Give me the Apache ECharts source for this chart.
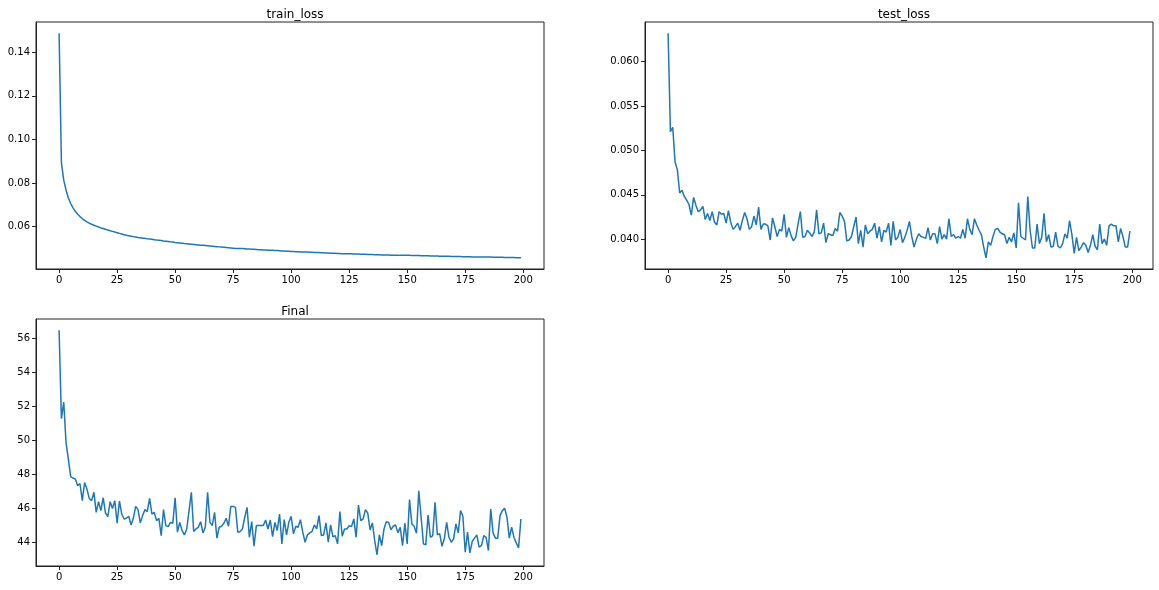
<!DOCTYPE html>
<html>
<head>
<meta charset="utf-8">
<script src="https://cdn.jsdelivr.net/npm/echarts@6/dist/echarts.min.js"></script>
<style>
html,body{margin:0;padding:0;background:#fff;}
#chart{width:1159px;height:590px;}
</style>
</head>
<body>
<div id="chart"></div>
<script>
// ---- data ----
const titles = ["train_loss", "test_loss", "Final"];
const xTicks = [0, 25, 50, 75, 100, 125, 150, 175, 200];
const trainTicks = [0.06, 0.08, 0.10, 0.12, 0.14];
const testTicks = [0.040, 0.045, 0.050, 0.055, 0.060];
const finalTicks = [44, 46, 48, 50, 52, 54, 56];

const trainLoss = [
0.1487,0.0893,0.0813,0.0768,0.0731,0.0706,0.0686,0.0670,0.0657,0.0646,0.0637,
0.0629,0.0622,0.0616,0.0611,0.0606,0.0602,0.0598,0.0594,0.0591,0.0588,
0.0584,0.0581,0.0578,0.0575,0.0572,0.0569,0.0566,0.0563,0.0560,0.0558,
0.0556,0.0554,0.0552,0.0550,0.0549,0.0547,0.0546,0.0544,0.0543,0.0542,
0.0540,0.0538,0.0537,0.0536,0.0534,0.0533,0.0532,0.0530,0.0529,0.0527,
0.0526,0.0525,0.0524,0.0522,0.0521,0.0520,0.0519,0.0518,0.0517,0.0516,
0.0515,0.0514,0.0513,0.0512,0.0511,0.0510,0.0509,0.0508,0.0507,0.0506,0.0505,0.0504,0.0503,0.0502,0.0501,
0.0500,0.0500,0.0499,0.0499,0.0498,0.0497,0.0497,0.0496,0.0496,0.0495,0.0494,0.0494,0.0493,0.0493,0.0492,0.0491,0.0491,0.0490,0.0490,0.0489,0.0488,0.0488,0.0487,0.0487,0.0486,
0.0486,0.0485,0.0485,0.0484,0.0484,0.0483,0.0483,0.0482,0.0482,0.0481,0.0481,0.0481,0.0480,0.0480,0.0479,0.0479,0.0478,0.0478,0.0478,0.0477,0.0477,0.0476,0.0476,0.0475,0.0475,
0.0475,0.0474,0.0474,0.0474,0.0473,0.0473,0.0473,0.0472,0.0472,0.0472,0.0471,0.0471,0.0471,0.0470,0.0470,0.0470,0.0470,0.0469,0.0469,0.0469,0.0469,0.0468,0.0468,0.0468,0.0468,
0.0468,0.0467,0.0467,0.0467,0.0467,0.0466,0.0466,0.0466,0.0466,0.0465,0.0465,0.0465,0.0465,0.0464,0.0464,0.0464,0.0464,0.0464,0.0463,0.0463,0.0463,0.0463,0.0463,0.0462,0.0462,
0.0462,0.0462,0.0461,0.0461,0.0461,0.0461,0.0460,0.0460,0.0460,0.0460,0.0460,0.0459,0.0459,0.0459,0.0459,0.0459,0.0458,0.0458,0.0458,0.0458,0.0458,0.0457,0.0457,0.0457
];

const testLoss = [
0.0632,0.0521,0.0526,0.0487,0.0478,0.0452,0.0455,0.0448,0.0444,0.0439,
0.0427,0.0447,0.0438,0.0431,0.0433,0.0437,0.0422,0.0429,0.0421,0.0431,
0.0419,0.0416,0.0431,0.0428,0.0429,0.0418,0.0432,0.0419,0.0411,0.0414,
0.0418,0.0410,0.0421,0.0430,0.0423,0.0411,0.0414,0.0426,0.0416,0.0436,
0.0411,0.0417,0.0417,0.0415,0.0399,0.0424,0.0414,0.0403,0.0411,0.0409,
0.0428,0.0402,0.0413,0.0404,0.0398,0.0402,0.0417,0.0431,0.0402,0.0403,
0.0410,0.0407,0.0403,0.0408,0.0433,0.0406,0.0407,0.0418,0.0396,0.0406,
0.0405,0.0404,0.0412,0.0409,0.0430,0.0426,0.0420,0.0398,0.0399,0.0403,
0.0414,0.0425,0.0395,0.0410,0.0391,0.0416,0.0406,0.0409,0.0411,0.0418,
0.0401,0.0414,0.0397,0.0410,0.0408,0.0418,0.0393,0.0420,0.0399,0.0402,
0.0411,0.0396,0.0402,0.0410,0.0420,0.0403,0.0391,0.0400,0.0406,0.0403,
0.0402,0.0401,0.0413,0.0399,0.0406,0.0406,0.0395,0.0414,0.0400,0.0405,
0.0400,0.0423,0.0403,0.0405,0.0401,0.0403,0.0401,0.0411,0.0401,0.0423,
0.0411,0.0405,0.0423,0.0416,0.0410,0.0405,0.0391,0.0379,0.0397,0.0393,
0.0403,0.0411,0.0412,0.0408,0.0406,0.0405,0.0395,0.0402,0.0397,0.0407,
0.0390,0.0441,0.0403,0.0401,0.0399,0.0448,0.0410,0.0390,0.0390,0.0417,
0.0395,0.0402,0.0429,0.0397,0.0405,0.0391,0.0392,0.0408,0.0392,0.0390,
0.0395,0.0406,0.0401,0.0421,0.0405,0.0384,0.0402,0.0387,0.0391,0.0396,
0.0393,0.0385,0.0393,0.0405,0.0392,0.0388,0.0417,0.0395,0.0400,0.0393,
0.0415,0.0417,0.0415,0.0415,0.0397,0.0412,0.0403,0.0391,0.0391,0.0409
];

const finalVals = [
56.49,51.28,52.26,49.87,48.89,47.87,47.78,47.72,47.33,47.46,
46.45,47.52,47.13,46.58,46.45,46.94,45.76,46.39,45.86,46.62,
45.72,45.51,46.39,45.99,46.45,45.12,46.43,45.66,45.37,45.41,
45.53,45.02,45.41,46.11,45.92,45.14,45.57,45.92,45.80,46.58,
45.66,45.76,45.27,45.41,44.39,45.92,44.98,44.92,45.17,45.12,
46.62,44.59,45.17,44.69,44.43,44.78,45.86,46.94,44.63,44.78,
44.88,45.21,44.55,44.88,46.94,45.17,44.98,45.76,44.24,44.88,
44.94,45.12,45.41,44.94,46.11,46.11,46.05,44.59,44.63,44.78,
45.47,46.05,44.29,45.21,43.76,44.98,44.98,44.98,44.98,45.31,
44.78,45.31,44.33,45.17,44.69,45.66,43.90,45.33,44.43,45.17,
45.53,44.49,44.94,44.88,45.33,44.59,44.00,44.43,44.55,44.63,
45.02,44.78,45.57,44.39,44.43,45.14,44.00,45.02,44.31,44.39,
43.90,45.80,44.35,44.78,44.78,44.98,44.92,45.37,44.29,46.19,
45.27,45.37,45.92,45.72,44.72,45.14,44.10,43.26,44.43,43.80,
44.78,45.21,45.17,44.74,44.94,45.02,44.55,44.88,43.80,45.12,
43.90,46.51,45.08,44.94,44.53,47.03,45.47,43.90,43.84,45.60,
44.29,44.39,46.35,44.43,44.51,43.76,44.20,45.17,44.29,44.00,
44.20,45.08,44.55,45.86,45.53,43.41,44.59,43.37,44.04,44.24,
44.43,43.71,43.80,44.39,44.29,43.51,45.96,44.55,44.24,44.24,
45.57,45.86,46.00,45.47,44.24,44.88,44.29,43.96,43.67,45.37
];

// ---- chart ----
const FONT = "DejaVu Sans";
const LINE = "#1f77b4";
const grids = [
  {left: 36, top: 22, width: 508, height: 247},
  {left: 645, top: 22, width: 508, height: 247},
  {left: 36, top: 319, width: 508, height: 247}
];
const series = [trainLoss, testLoss, finalVals];
const yTicks = [trainTicks, testTicks, finalTicks];
const yFmt = [v => v.toFixed(2), v => v.toFixed(3), v => String(Math.round(v))];

const toPairs = arr => arr.map((v, i) => [i, v]);

const option = {
  animation: false,
  backgroundColor: "#fff",
  title: grids.map((g, k) => ({
    text: titles[k],
    left: g.left + g.width / 2,
    top: g.top - 18,
    textAlign: "center",
    textStyle: {fontFamily: FONT, fontSize: 12, fontWeight: "normal", color: "#000"}
  })),
  grid: grids.map(g => Object.assign({show: true, borderColor: "#222", borderWidth: 1, backgroundColor: "transparent", containLabel: false}, g)),
  xAxis: grids.map((g, k) => ({
    type: "value", gridIndex: k, min: -9.95, max: 208.95, position: "bottom",
    splitLine: {show: false},
    axisLine: {show: true, onZero: false, lineStyle: {color: "#222", width: 1}},
    axisTick: {show: true, customValues: xTicks, inside: false, length: 4, lineStyle: {color: "#222", width: 1}},
    axisLabel: {show: true, customValues: xTicks, margin: 6, color: "#000", fontFamily: FONT, fontSize: 10}
  })),
  yAxis: grids.map((g, k) => ({
    type: "value", gridIndex: k, scale: true, position: "left",
    min: v => v.min - 0.05 * (v.max - v.min),
    max: v => v.max + 0.05 * (v.max - v.min),
    splitLine: {show: false},
    axisLine: {show: true, onZero: false, lineStyle: {color: "#222", width: 1}},
    axisTick: {show: true, customValues: yTicks[k], inside: false, length: 4, lineStyle: {color: "#222", width: 1}},
    axisLabel: {show: true, customValues: yTicks[k], margin: 6, color: "#000", fontFamily: FONT, fontSize: 10, formatter: yFmt[k]}
  })),
  series: series.map((arr, k) => ({
    type: "line", xAxisIndex: k, yAxisIndex: k,
    data: toPairs(arr), showSymbol: false, symbol: "none",
    lineStyle: {color: LINE, width: 1.5}, itemStyle: {color: LINE}
  }))
};

const chart = echarts.init(document.getElementById("chart"), null, {renderer: "canvas"});
chart.setOption(option);
</script>
</body>
</html>
